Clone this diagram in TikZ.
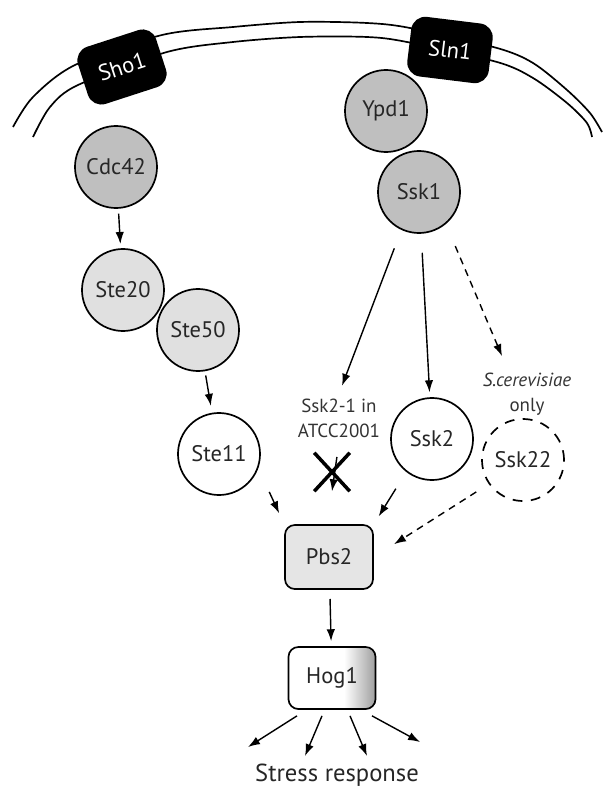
\documentclass[tikz,border=0pt]{standalone}
\usepackage{fontspec}
\setmainfont{PT Sans}
\usepackage{tikz}
\usetikzlibrary{arrows.meta,shapes,positioning}
\pgfdeclarehorizontalshading{hogshade}{100bp}{color(0bp)=(white); color(25bp)=(white); color(57bp)=(white); color(75bp)=(black!38); color(100bp)=(black!38)}

\begin{document}
\begin{tikzpicture}[x=0.025cm,y=-0.025cm,
  prot/.style={circle,draw,line width=1.2pt,minimum size=2.05cm,inner sep=0pt,text=black!85,font=\fontsize{16}{19}\selectfont},
  rec/.style={rectangle,rounded corners=10pt,fill=black,text=white,minimum width=2.05cm,minimum height=1.5cm,font=\fontsize{16}{19}\selectfont},
  kin/.style={rectangle,rounded corners=7pt,draw,line width=1.2pt,minimum width=2.2cm,minimum height=1.6cm,text=black!85,font=\fontsize{16}{19}\selectfont},
  lbl/.style={align=center,text=black!80,font=\fontsize{13.5}{17.8}\selectfont},
  arr/.style={-{Latex[length=8.5pt,width=6pt]},line width=1pt},
  darr/.style={arr,dash pattern=on 5pt off 4pt}]
\useasboundingbox (0,0) rectangle (603,787);
\draw[line width=1.2pt] plot[smooth] coordinates {(13,127) (33,97) (75,65) (162,35) (233,27) (300,22) (367,23) (410,28) (497,48) (533,63) (567,90) (590,113) (602,132)};
\draw[line width=1.2pt] plot[smooth] coordinates {(33,137) (50,107) (78,85) (167,52) (233,42) (300,37) (367,37) (407,42) (497,62) (533,78) (567,103) (587,123) (592,137)};
\node[rec,rotate=18] (Sho1) at (122,67) {Sho1};
\node[rec,rotate=-7] (Sln1) at (450,50) {Sln1};
\node[prot,fill=black!25] (Cdc) at (116,167) {Cdc42};
\node[prot,fill=black!25] (Ypd1) at (386,111) {Ypd1};
\node[prot,fill=black!25] (Ssk1) at (419,192) {Ssk1};
\node[prot,fill=black!12] (Ste20) at (123,290) {Ste20};
\node[prot,fill=black!12] (Ste50) at (198,330) {Ste50};
\node[prot] (Ste11) at (219,454) {Ste11};
\node[prot] (Ssk2) at (432,439) {Ssk2};
\node[prot,dash pattern=on 7pt off 6pt] (Ssk22) at (523,460) {Ssk22};
\node[lbl] (mut) at (339,418) {Ssk2-1 in\\ATCC2001};
\node[lbl] (cer) at (527,394) {\textit{S.cerevisiae}\\only};
\node[cross out,draw,line width=2.5pt,minimum width=0.8cm,minimum height=0.875cm,inner sep=0pt] (X) at (332,472) {};
\node[kin,fill=black!10] (Pbs2) at (329,557) {Pbs2};
\node[kin,shading=hogshade,minimum width=2.175cm,minimum height=1.55cm] (Hog1) at (332,678) {Hog1};
\node[text=black!85,font=\fontsize{17.5}{20}\selectfont] (resp) at (337,775) {Stress response};
\coordinate (r1) at (248,747);
\coordinate (r2) at (305,756);
\coordinate (r3) at (367,756);
\coordinate (r4) at (420,742);
\draw[arr,shorten <=3.5pt,shorten >=3pt] (Cdc) -- (Ste20);
\draw[arr,shorten <=3pt,shorten >=5pt] (Ste50) -- (Ste11);
\draw[arr,shorten <=14pt,shorten >=6pt] (Ssk1.-115) -- (mut.north);
\draw[arr,shorten <=13.5pt,shorten >=3.5pt] (Ssk1) -- (Ssk2);
\draw[darr,shorten <=17pt,shorten >=9pt] (Ssk1.-50) -- ([shift={(-20,0)}]cer.north);
\draw[arr,shorten <=10.5pt] (mut.south) -- (X.south);
\draw[arr,shorten <=18.5pt,shorten >=8.5pt] (Ste11.-20) -- (Pbs2.north west);
\draw[arr,shorten <=14pt,shorten >=6.5pt] (Ssk2.-128) -- (Pbs2.north east);
\draw[darr,shorten <=10.5pt,shorten >=17pt] (Ssk22.-145) -- (Pbs2.east);
\draw[arr,shorten <=6.5pt,shorten >=3.5pt] (Pbs2) -- (Hog1);
\foreach \n/\sx in {r1/-35,r2/-10,r3/18,r4/40}
  \draw[arr] ([shift={(\sx,6)}]Hog1.south) -- (\n);
\end{tikzpicture}
\end{document}
